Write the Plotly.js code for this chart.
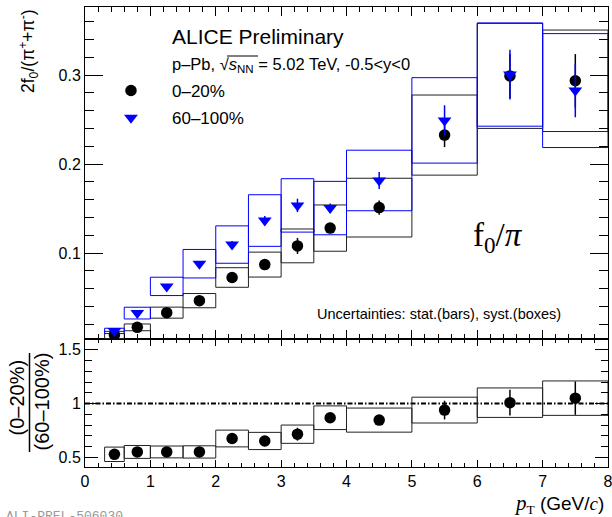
<!DOCTYPE html>
<html>
<head>
<meta charset="utf-8">
<script src="https://cdn.plot.ly/plotly-3.0.1.min.js"></script>
<style>
  html, body { margin: 0; padding: 0; background: #fff; }
  #plot { width: 612px; height: 517px; }
</style>
</head>
<body>
<div id="plot"></div>
<script>
// pT bins (GeV/c)
const binLow  = [0.3, 0.6, 1.0, 1.5, 2.0, 2.5, 3.0, 3.5, 4.0, 5.0, 6.0, 7.0];
const binHigh = [0.6, 1.0, 1.5, 2.0, 2.5, 3.0, 3.5, 4.0, 5.0, 6.0, 7.0, 8.0];
const ptCenter = [0.45, 0.8, 1.25, 1.75, 2.25, 2.75, 3.25, 3.75, 4.5, 5.5, 6.5, 7.5];

// 2f0/(pi+ + pi-), 0-20% multiplicity class
const central      = [0.008, 0.0165, 0.033, 0.0465, 0.0725, 0.087, 0.108, 0.128, 0.151, 0.2325, 0.299, 0.2935];
const centralStat  = [0.001, 0.001, 0.002, 0.002, 0.003, 0.005, 0.009, 0.005, 0.008, 0.0135, 0.025, 0.03];
const centralSyst  = [0.004, 0.0038, 0.0062, 0.008, 0.011, 0.014, 0.019, 0.026, 0.033, 0.045, 0.059, 0.057];

// 2f0/(pi+ + pi-), 60-100% multiplicity class
const peripheral     = [0.0125, 0.0325, 0.0625, 0.088, 0.1095, 0.1365, 0.1535, 0.1505, 0.1815, 0.249, 0.3005, 0.2825];
const peripheralStat = [0.001, 0.002, 0.002, 0.003, 0.004, 0.005, 0.0075, 0.005, 0.0095, 0.017, 0.028, 0.03];
const peripheralSyst = [0.003, 0.0066, 0.0103, 0.016, 0.021, 0.029, 0.030, 0.030, 0.034, 0.048, 0.058, 0.064];

// (0-20%)/(60-100%)
const ratio     = [0.528, 0.55, 0.55, 0.55, 0.675, 0.652, 0.715, 0.868, 0.846, 0.939, 1.008, 1.05];
const ratioStat = [0.01, 0.01, 0.01, 0.01, 0.015, 0.02, 0.06, 0.04, 0.04, 0.087, 0.12, 0.155];
const ratioSyst = [0.067, 0.06, 0.055, 0.057, 0.078, 0.08, 0.085, 0.11, 0.112, 0.12, 0.137, 0.16];
const ratioRef  = 1;

const xTicks = [0, 1, 2, 3, 4, 5, 6, 7, 8];

const BLUE = '#0000ff';
const BLACK = '#000000';
const BOXGREY = '#222222';

// Rectangle outline per bin for the systematic uncertainties
function boxTrace(vals, syst, color, xa, ya) {
  const xs = [], ys = [];
  for (let i = 0; i < vals.length; i++) {
    const lo = vals[i] - syst[i], hi = vals[i] + syst[i];
    xs.push(binLow[i], binHigh[i], binHigh[i], binLow[i], binLow[i], null);
    ys.push(lo, lo, hi, hi, lo, null);
  }
  return {
    x: xs, y: ys, xaxis: xa, yaxis: ya, type: 'scatter', mode: 'lines',
    line: { color: color, width: 1 }, showlegend: false, hoverinfo: 'skip',
    connectgaps: false
  };
}

function pointTrace(vals, stat, color, symbol, size, name, xa, ya, legend) {
  return {
    x: ptCenter, y: vals, xaxis: xa, yaxis: ya, type: 'scatter', mode: 'markers',
    name: name, showlegend: legend, legendgroup: name,
    marker: { color: color, symbol: symbol, size: size, line: { width: 0 } },
    error_y: { type: 'data', array: stat, visible: true, color: color, thickness: 1.5, width: 0 }
  };
}

const traces = [
  boxTrace(central, centralSyst, BOXGREY, 'x2', 'y2'),
  boxTrace(peripheral, peripheralSyst, BLUE, 'x2', 'y2'),
  pointTrace(central, centralStat, BLACK, 'circle', 11.5, '0–20%', 'x2', 'y2', true),
  pointTrace(peripheral, peripheralStat, BLUE, 'triangle-down', 12, '60–100%', 'x2', 'y2', true),
  boxTrace(ratio, ratioSyst, BOXGREY, 'x', 'y'),
  pointTrace(ratio, ratioStat, BLACK, 'circle', 11.5, 'ratio', 'x', 'y', false)
];

// plot area geometry helpers (pixels -> paper fractions)
const W = 612, H = 517, ML = 85, MR = 4, MT = 7, MB = 50;
const PW = W - ML - MR, PH = H - MT - MB;
const px = v => (v - ML) / PW;
const py = v => (H - MB - v) / PH;
const split = py(339);

const sansFont = 'Liberation Sans, Arial, sans-serif';
const serifFont = 'Liberation Serif, Times New Roman, serif';

const axisCommon = {
  showline: true, linecolor: BLACK, linewidth: 1, mirror: 'allticks',
  ticks: 'inside', tickcolor: BLACK, tickwidth: 1,
  showgrid: false, zeroline: false, ticklabeloverflow: 'allow',
  tickfont: { family: sansFont, size: 16, color: BLACK }
};

const layout = {
  width: W, height: H,
  margin: { l: ML, r: MR, t: MT, b: MB, pad: 0 },
  paper_bgcolor: '#ffffff', plot_bgcolor: '#ffffff',
  font: { family: sansFont, color: BLACK },
  showlegend: true,
  legend: {
    x: px(90), y: py(73), xanchor: 'left', yanchor: 'top',
    bgcolor: 'rgba(0,0,0,0)', borderwidth: 0,
    font: { family: sansFont, size: 17, color: BLACK },
    itemwidth: 72, traceorder: 'grouped', tracegroupgap: 2
  },
  xaxis: Object.assign({}, axisCommon, {
    domain: [0, 1], anchor: 'y', range: [0, 8], tickvals: xTicks,
    ticklen: 7, minor: { dtick: 0.2, tick0: 0, ticklen: 4, ticks: 'inside', tickcolor: BLACK, showgrid: false }
  }),
  xaxis2: Object.assign({}, axisCommon, {
    domain: [0, 1], anchor: 'y2', range: [0, 8], matches: 'x', tickvals: xTicks,
    showticklabels: false,
    ticklen: 9, minor: { dtick: 0.2, tick0: 0, ticklen: 5, ticks: 'inside', tickcolor: BLACK, showgrid: false }
  }),
  yaxis: Object.assign({}, axisCommon, {
    domain: [0, split], anchor: 'x', range: [0.41, 1.6], dtick: 0.5, tick0: 0,
    ticklen: 13, minor: { dtick: 0.1, tick0: 0, ticklen: 7, ticks: 'inside', tickcolor: BLACK, showgrid: false }
  }),
  yaxis2: Object.assign({}, axisCommon, {
    domain: [split, 1], anchor: 'x2', range: [0.0034, 0.3764], dtick: 0.1, tick0: 0,
    ticklen: 18, minor: { dtick: 0.02, tick0: 0, ticklen: 9, ticks: 'inside', tickcolor: BLACK, showgrid: false }
  }),
  shapes: [
    // unity reference in the ratio panel
    { type: 'line', xref: 'x domain', x0: 0, x1: 1, yref: 'y', y0: ratioRef, y1: ratioRef,
      line: { color: BLACK, width: 2, dash: '5px,2px,1.5px,2px' }, layer: 'below' },
    // fraction bar of the ratio-panel title
    { type: 'line', xref: 'paper', yref: 'paper', x0: px(29.5), x1: px(29.5), y0: py(353), y1: py(452),
      line: { color: BLACK, width: 1.5 } },
    // radical bar over s_NN
    { type: 'line', xref: 'paper', yref: 'paper', x0: px(227), x1: px(258), y0: py(56), y1: py(56),
      line: { color: BLACK, width: 1 } }
  ],
  annotations: [
    { text: 'ALICE Preliminary', xref: 'paper', yref: 'paper', x: px(170), y: py(37),
      xanchor: 'left', yanchor: 'middle', showarrow: false,
      font: { family: sansFont, size: 21, color: BLACK } },
    { text: 'p–Pb, √<i>s</i><sub>NN</sub> = 5.02 TeV, -0.5&lt;y&lt;0', xref: 'paper', yref: 'paper',
      x: px(170), y: py(65), xanchor: 'left', yanchor: 'middle', showarrow: false,
      font: { family: sansFont, size: 16.5, color: BLACK } },
    { text: 'Uncertainties: stat.(bars), syst.(boxes)', xref: 'paper', yref: 'paper',
      x: px(563), y: py(314), xanchor: 'right', yanchor: 'middle', showarrow: false,
      font: { family: sansFont, size: 14.5, color: BLACK } },
    { text: 'f<sub>0</sub>/<i>π</i>', xref: 'paper', yref: 'paper',
      x: px(498), y: py(237), xanchor: 'center', yanchor: 'middle', showarrow: false,
      font: { family: serifFont, size: 33, color: BLACK } },
    { text: '2f<sub>0</sub>/(π<sup>+</sup>+π<sup>-</sup>)', xref: 'paper', yref: 'paper',
      x: px(28), y: py(51), xanchor: 'center', yanchor: 'middle', textangle: -90, showarrow: false,
      font: { family: sansFont, size: 17.5, color: BLACK } },
    { text: '(0–20%)', xref: 'paper', yref: 'paper',
      x: px(16.5), y: py(398), xanchor: 'center', yanchor: 'middle', textangle: -90, showarrow: false,
      font: { family: sansFont, size: 20, color: BLACK } },
    { text: '(60–100%)', xref: 'paper', yref: 'paper',
      x: px(41.5), y: py(402), xanchor: 'center', yanchor: 'middle', textangle: -90, showarrow: false,
      font: { family: sansFont, size: 20, color: BLACK } },
    { text: '<span style="font-family:Liberation Serif;font-style:italic;font-size:21px">p</span><sub><span style="font-family:Liberation Serif">T</span></sub> (GeV/<span style="font-family:Liberation Serif;font-style:italic">c</span>)',
      xref: 'paper', yref: 'paper', x: px(606), y: py(504), xanchor: 'right', yanchor: 'middle',
      showarrow: false, font: { family: sansFont, size: 19, color: BLACK } },
    { text: 'ALI-PREL-506030', xref: 'paper', yref: 'paper', x: px(4), y: py(507),
      xanchor: 'left', yanchor: 'top', showarrow: false,
      font: { family: 'Liberation Mono, monospace', size: 13, color: '#9a9a9a' } }
  ]
};

Plotly.newPlot('plot', traces, layout, { staticPlot: true, displayModeBar: false });
</script>
</body>
</html>
